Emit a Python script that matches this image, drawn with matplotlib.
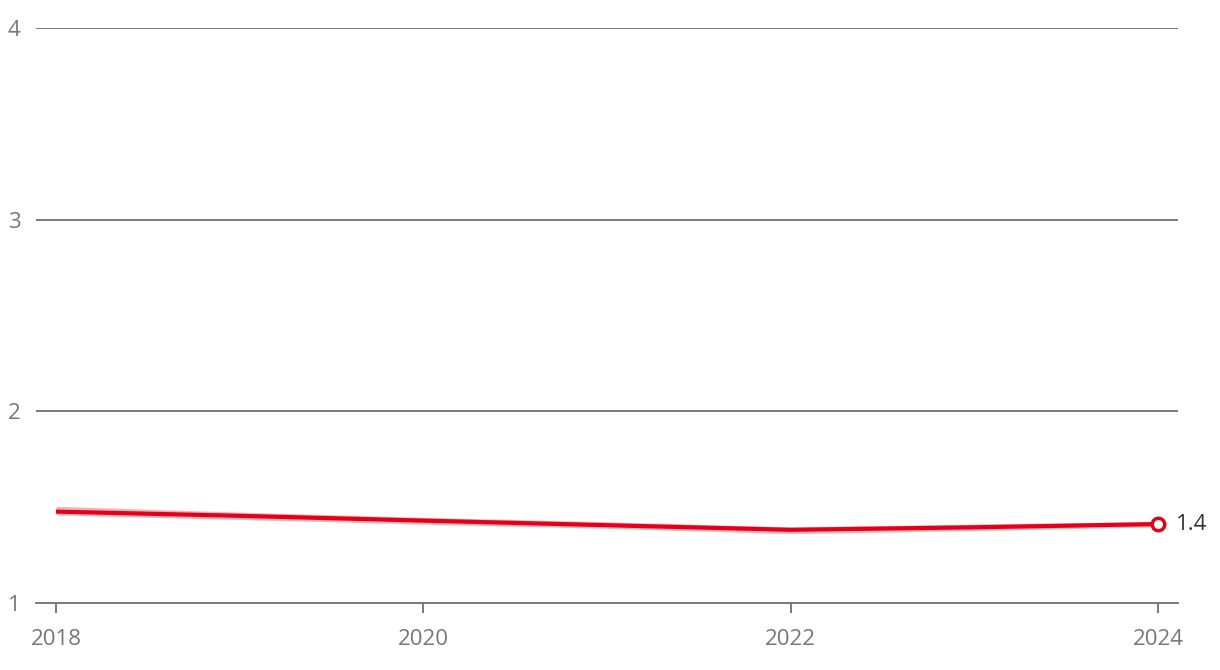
import numpy as np
import matplotlib.pyplot as plt

years = [2018, 2019, 2020, 2021, 2022, 2023, 2024]
values = [1.477, 1.455, 1.430, 1.406, 1.382, 1.395, 1.412]
lower = [1.460, 1.436, 1.412, 1.390, 1.362, 1.378, 1.398]
upper = [1.505, 1.474, 1.447, 1.424, 1.397, 1.412, 1.425]
xticks = [2018, 2020, 2022, 2024]
yticks = [1, 2, 3, 4]
last_label = '1.4'

plt.rcParams['font.family'] = ['Open Sans', 'DejaVu Sans']

fig = plt.figure(figsize=(12.2, 6.7), dpi=100)
ax = fig.add_axes([0.0295, 0.1, 0.936, 0.858])

red = '#e2001a'
grid = '#707070'

for y in yticks[1:]:
    ax.axhline(y, color=grid, lw=1.3, zorder=1)

ax.fill_between(years, lower, upper, color=red, alpha=0.3, lw=0, zorder=2)
ax.plot(years, values, color=red, lw=3, solid_capstyle='butt', zorder=3)
ax.plot(years[-1], values[-1], 'o', ms=9, mfc='white', mec=red, mew=2.5, zorder=4)
ax.annotate(last_label, (years[-1], values[-1]), xytext=(13, 0), textcoords='offset points',
            va='center', ha='left', fontsize=16, color='#333333')

ax.set_xlim(2017.891, 2024.109)
ax.set_ylim(1, 4)
ax.set_xticks(xticks)
ax.set_yticks(yticks)
ax.tick_params(axis='x', length=7, width=1.3, color=grid, labelsize=16, labelcolor='#777777', pad=12)
ax.tick_params(axis='y', length=0, labelsize=16, labelcolor='#777777', pad=11)

for s in ['top', 'right', 'left']:
    ax.spines[s].set_visible(False)
ax.spines['bottom'].set_color(grid)
ax.spines['bottom'].set_linewidth(1.3)

plt.savefig('out.png', dpi=100)
